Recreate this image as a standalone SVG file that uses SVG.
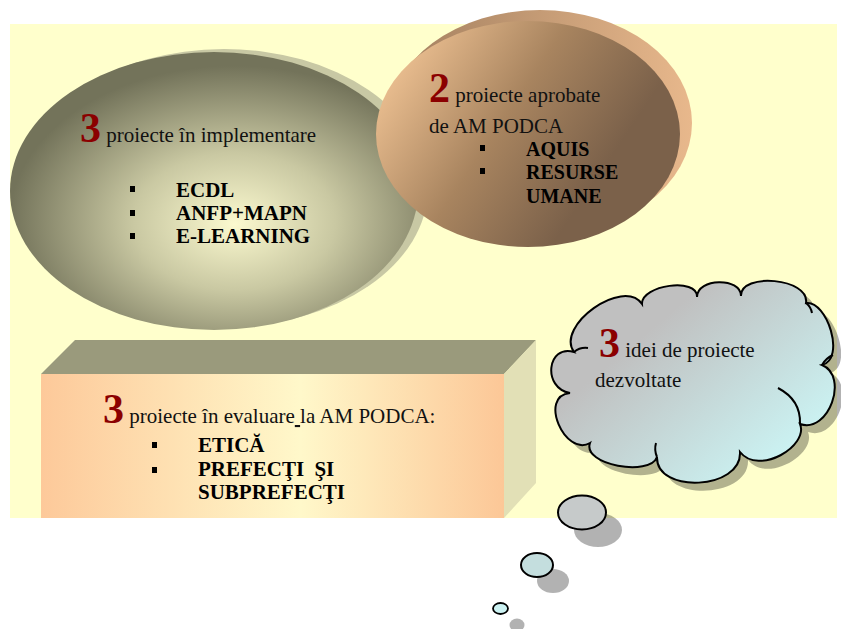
<svg xmlns="http://www.w3.org/2000/svg" width="841" height="629" viewBox="0 0 841 629">
<defs>
<radialGradient id="gOlive" cx="0.55" cy="0.6" r="0.55" fx="0.55" fy="0.62">
<stop offset="0" stop-color="#fbf9cf"/>
<stop offset="0.45" stop-color="#c9c8a2"/>
<stop offset="1" stop-color="#73735a"/>
</radialGradient>
<linearGradient id="gBrown" x1="0" y1="0.15" x2="1" y2="0.65">
<stop offset="0" stop-color="#f7c999"/>
<stop offset="0.45" stop-color="#a8845f"/>
<stop offset="0.8" stop-color="#7b614a"/>
<stop offset="1" stop-color="#7b614a"/>
</linearGradient>
<linearGradient id="gBrownSh" x1="0" y1="0" x2="1" y2="0">
<stop offset="0" stop-color="#a17e5e"/>
<stop offset="1" stop-color="#e8b88c"/>
</linearGradient>
<linearGradient id="gFront" x1="0" y1="0" x2="1" y2="0">
<stop offset="0" stop-color="#fdc99a"/>
<stop offset="0.56" stop-color="#fff8ca"/>
<stop offset="1" stop-color="#fcc797"/>
</linearGradient>
<linearGradient id="gCloud" x1="0.3" y1="0.3" x2="0.95" y2="0.85">
<stop offset="0" stop-color="#c0c0c0"/>
<stop offset="1" stop-color="#ccf8f8"/>
</linearGradient>
<path id="cloudPath" d="M574,352 C555,326 623,277 642,304 C641,285 698,277 697,297 C697,278 741,277 741,296 C740,272 810,278 806,303 C827,300 846,359 822,365 C849,376 829,434 800,424 C809,446 759,476 740,452 C742,490 656,494 657,457 C650,477 582,465 590,443 C565,457 538,396 570,393 C542,388 547,344 574,352 Z"/>
</defs>
<style>
.t{font-family:"Liberation Serif","Times New Roman",serif;font-size:21px;fill:#111}
.num{font-size:42px;font-weight:bold;fill:#8b0000}
.b{font-family:"Liberation Serif","Times New Roman",serif;font-size:21px;font-weight:bold;fill:#000}
.b20{font-size:20px}
.blt{fill:#000}
.ln{fill:none;stroke:#000;stroke-width:2}
.sh{fill:#000;fill-opacity:0.3}
</style>
<rect x="10" y="24" width="827" height="494" fill="#ffffcc"/>

<g id="node-implementare">
<ellipse cx="224" cy="188" rx="204" ry="139" fill="#c8c8a4"/>
<ellipse cx="214" cy="191" rx="204" ry="139" fill="url(#gOlive)"/>
<text class="t" x="80" y="142"><tspan class="num">3</tspan> proiecte în implementare</text>
<rect class="blt" x="130" y="186" width="5" height="6"/>
<rect class="blt" x="130" y="210" width="5" height="6"/>
<rect class="blt" x="130" y="233" width="5" height="6"/>
<text class="b" x="176" y="197">ECDL</text>
<text class="b" x="176" y="220">ANFP+MAPN</text>
<text class="b" x="176" y="243">E-LEARNING</text>
</g>

<g id="node-aprobate">
<ellipse cx="540" cy="123" rx="152" ry="113" fill="url(#gBrownSh)"/>
<ellipse cx="528" cy="134" rx="152" ry="113" fill="url(#gBrown)"/>
<text class="t" x="429" y="102"><tspan class="num">2</tspan> proiecte aprobate</text>
<text class="t" x="429" y="133">de AM PODCA</text>
<rect class="blt" x="480" y="145" width="5" height="6"/>
<rect class="blt" x="480" y="168" width="5" height="6"/>
<text class="b b20" x="526" y="156">AQUIS</text>
<text class="b b20" x="526" y="179">RESURSE</text>
<text class="b b20" x="526" y="203">UMANE</text>
</g>

<g id="node-evaluare">
<polygon points="41,374 75,340 536,340 504,374" fill="#9a9a7c"/>
<polygon points="504,374 536,340 536,483 504,518" fill="#e2e0b6"/>
<rect x="41" y="374" width="463" height="144" fill="url(#gFront)"/>
<text class="t" x="103" y="423"><tspan class="num">3</tspan> proiecte în evaluare<tspan text-decoration="underline"> </tspan>la AM PODCA:</text>
<rect class="blt" x="152" y="442" width="5" height="6"/>
<rect class="blt" x="152" y="467" width="5" height="6"/>
<text class="b" x="198" y="452">ETICĂ</text>
<text class="b" x="198" y="476" word-spacing="5">PREFECŢI ŞI</text>
<text class="b" x="198" y="499">SUBPREFECŢI</text>
</g>

<g id="node-idei">
<use href="#cloudPath" class="sh" transform="translate(8,8)"/>
<use href="#cloudPath" fill="url(#gCloud)" stroke="#000" stroke-width="2"/>
<path class="ln" d="M800,424 Q801,400 778,388"/>
<path class="ln" d="M657,457 Q654,450 656,443"/>
<path class="ln" d="M806,303 Q811,307 812,313"/>
<path class="ln" d="M822,365 Q826,358 833,355"/>
<path class="ln" d="M574,352 Q580,347 588,348"/>
<text class="t" x="599" y="357"><tspan class="num">3</tspan> idei de proiecte</text>
<text class="t" x="595" y="387">dezvoltate</text>
<ellipse class="sh" cx="598" cy="530" rx="24" ry="17"/>
<ellipse cx="582" cy="512.5" rx="24" ry="17" fill="#c6caca" stroke="#000" stroke-width="2"/>
<ellipse class="sh" cx="553" cy="581" rx="16" ry="12"/>
<ellipse cx="537" cy="565" rx="16" ry="12" fill="#c4dede" stroke="#000" stroke-width="2"/>
<ellipse class="sh" cx="517" cy="625" rx="7.5" ry="6.5"/>
<ellipse cx="500.5" cy="608.5" rx="7.5" ry="5.5" fill="#ccf2f2" stroke="#000" stroke-width="1.8"/>
</g>

<g id="connectors"></g>
</svg>
